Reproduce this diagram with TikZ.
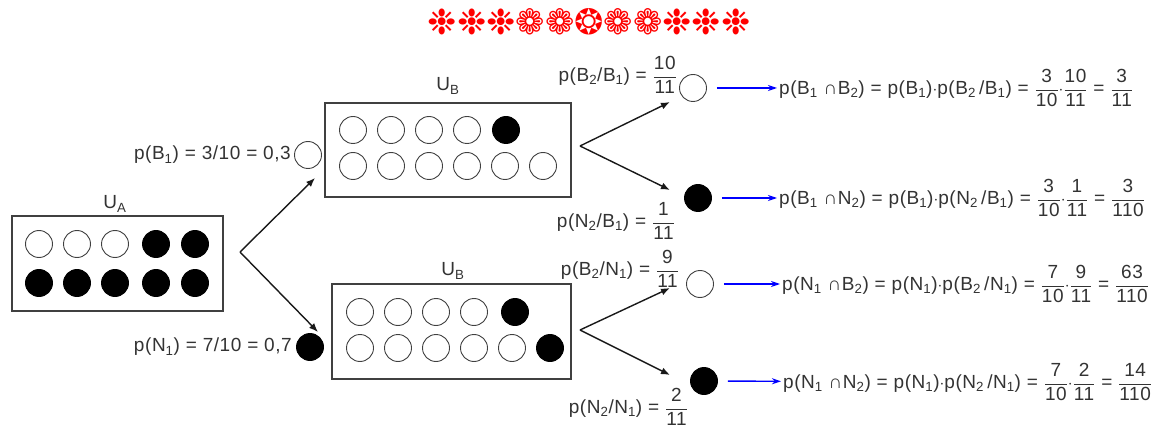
\documentclass[tikz,border=0pt]{standalone}
\usepackage{amsmath}
\usepackage{fontspec}
\setmainfont{Liberation Sans}[LetterSpace=3]
\newfontfamily\dingfont{DejaVu Sans}
\usetikzlibrary{arrows.meta}

\newcommand{\ix}[1]{\textsubscript{#1}}
\newcommand{\frc}[2]{\ensuremath{\dfrac{\text{#1}}{\text{#2}}}}

\begin{document}
\begin{tikzpicture}[x=1pt,y=-1pt,font=\fontsize{19}{22}\selectfont,
  wball/.style={circle,draw=black!75,line width=0.9pt,minimum size=27pt,inner sep=0pt},
  bball/.style={wball,fill=black,draw=black},
  urn/.style n args={2}{draw=black!75,line width=1.3pt,minimum width=#1pt,minimum height=#2pt,inner sep=0pt},
  txt/.style={text=black!80,inner sep=2pt},
  arr/.style={black!90,line width=1.4pt,-{Latex[length=9pt,width=7pt]}},
  barr/.style={blue,line width=1.4pt,shorten <=10pt,-{Stealth[length=9pt,width=6pt]}}]
\useasboundingbox (0,0) rectangle (1174,430);
\node[text=red,font=\dingfont\fontsize{35}{35}\selectfont] (title) at (589,22) {❉❉❉❁❁❂❁❁❉❉❉};
% urn A
\node[urn={211}{95}] (ua) at (117.5,263.5) {};
\node[txt] (ua-lbl) at (115,204) {U\ix{A}};
\foreach \x/\s [count=\i] in {39/wball,77/wball,115/wball,156/bball,195/bball} {
   \node[\s] (ua-a\i) at (\x,244) {};
   \node[bball] (ua-b\i) at (\x,283) {};
}
% urn B, first draw white
\node[urn={246}{94}] (ub) at (448,150) {};
\node[txt] (ub-lbl) at (448,86) {U\ix{B}};
\foreach \x/\s [count=\i] in {353/wball,391/wball,429/wball,467/wball,506/bball} {
   \node[\s] (ub-a\i) at (\x,130) {};
}
\foreach \x [count=\i] in {353,391,429,467,505,543} {
   \node[wball] (ub-b\i) at (\x,166) {};
}
% urn B, first draw black
\node[urn={239}{95}] (un) at (451.5,331.5) {};
\node[txt] (un-lbl) at (453,271) {U\ix{B}};
\foreach \x/\s [count=\i] in {360/wball,398/wball,436/wball,474/wball,515/bball} {
   \node[\s] (un-a\i) at (\x,312) {};
}
\foreach \x/\s [count=\i] in {360/wball,398/wball,436/wball,474/wball,512/wball,550/bball} {
   \node[\s] (un-b\i) at (\x,348) {};
}
% first draw
\coordinate (ua-fork) at (240,252);
\coordinate (ua-up) at (315,178);
\coordinate (ua-dn) at (318,332);
\draw[arr] (ua-fork) -- (ua-up);
\draw[arr] (ua-fork) -- (ua-dn);
\node[wball] (s-b1) at (308,155) {};
\node[bball] (s-n1) at (310,347) {};
\node[txt,anchor=east] (l-b1) at (293,155) {p(B\ix1) = 3/10 = 0,3};
\node[txt,anchor=east] (l-n1) at (294,347) {p(N\ix1) = 7/10 = 0,7};
% second draw
\coordinate (ub-fork) at (580,146);
\coordinate (ub-up) at (670,102);
\coordinate (ub-dn) at (670,190);
\draw[arr] (ub-fork) -- (ub-up);
\draw[arr] (ub-fork) -- (ub-dn);
\coordinate (un-fork) at (580,330);
\coordinate (un-up) at (670,288);
\coordinate (un-dn) at (670,375);
\draw[arr] (un-fork) -- (un-up);
\draw[arr] (un-fork) -- (un-dn);
\node[wball] (s-b2) at (693,88) {};
\node[bball] (s-n2) at (698,198) {};
\node[wball] (s-b3) at (700,284) {};
\node[bball] (s-n3) at (704,381) {};
\node[txt,anchor=east] (l-b2) at (679,75) {p(B\ix2/B\ix1) = \frc{10}{11}};
\node[txt,anchor=east] (l-n2) at (677,221) {p(N\ix2/B\ix1) = \frc{1}{11}};
\node[txt,anchor=east] (l-b3) at (681,269) {p(B\ix2/N\ix1) = \frc{9}{11}};
\node[txt,anchor=east] (l-n3) at (690,407) {p(N\ix2/N\ix1) = \frc{2}{11}};
% products
\node[txt,anchor=west] (f-b2) at (777,88) {p(B\ix1 ∩B\ix2) = p(B\ix1)$\cdot$p(B\ix2\,/B\ix1) = \frc{3}{10}$\cdot$\frc{10}{11} = \frc{3}{11}};
\node[txt,anchor=west] (f-n2) at (777,198) {p(B\ix1 ∩N\ix2) = p(B\ix1)$\cdot$p(N\ix2\,/B\ix1) = \frc{3}{10}$\cdot$\frc{1}{11} = \frc{3}{110}};
\node[txt,anchor=west] (f-b3) at (780,284) {p(N\ix1 ∩B\ix2) = p(N\ix1)$\cdot$p(B\ix2\,/N\ix1) = \frc{7}{10}$\cdot$\frc{9}{11} = \frc{63}{110}};
\node[txt,anchor=west] (f-n3) at (781,382) {p(N\ix1 ∩N\ix2) = p(N\ix1)$\cdot$p(N\ix2\,/N\ix1) = \frc{7}{10}$\cdot$\frc{2}{11} = \frc{14}{110}};
\foreach \n in {b2,n2,b3,n3} {
   \draw[barr] (s-\n) -- (f-\n);
}
\end{tikzpicture}
\end{document}
